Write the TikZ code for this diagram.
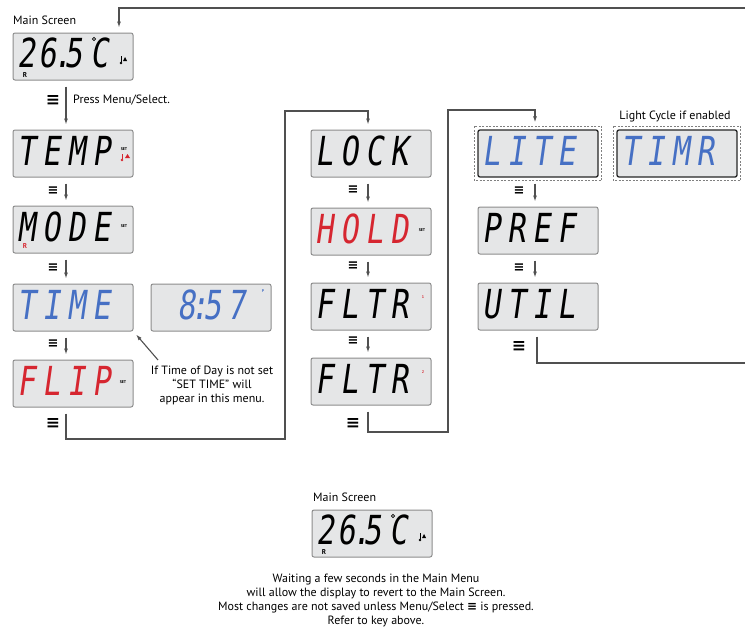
\documentclass[tikz,border=0pt]{standalone}
\usepackage{fontspec}
\setmainfont{PT Sans}
\newfontfamily\lcdfont{DejaVu Sans Mono}[FakeStretch=0.75, FakeSlant=0.14]
\newfontfamily\symfont{DejaVu Sans}
\usetikzlibrary{arrows.meta,positioning}
\definecolor{lcdfill}{RGB}{229,230,231}
\definecolor{lcdedge}{RGB}{140,140,140}
\definecolor{wireclr}{RGB}{80,80,80}
\definecolor{lcdblue}{RGB}{70,112,196}
\definecolor{lcdred}{RGB}{214,38,48}
\newcommand{\menukey}{{\symfont\bfseries ≡}}
\newcommand{\segsp}{\kern7pt}

\begin{document}
\begin{tikzpicture}[x=1pt, y=-1pt,
    lcd/.style={draw=lcdedge, fill=lcdfill, line width=1pt, rounded corners=2pt,
      minimum width=120pt, minimum height=47pt, inner sep=0pt},
    lcdhi/.style={lcd, draw=black!85, line width=1.3pt},
    outline/.style={draw=gray, dash pattern=on 2pt off 1.5pt, line width=0.9pt},
    seg/.style={font=\fontsize{40}{40}\lcdfont, inner sep=0pt, anchor=base west},
    lbl/.style={font=\fontsize{12}{14}\selectfont, inner sep=0pt},
    tiny/.style={font=\fontsize{4}{4}\selectfont\bfseries, inner sep=0pt},
    flag/.style={font=\fontsize{7}{7}\selectfont\bfseries, inner sep=0pt},
    key/.style={font=\fontsize{17}{17}\symfont\bfseries, inner sep=0pt},
    keysm/.style={font=\fontsize{13}{13}\symfont\bfseries, inner sep=0pt},
    wire/.style={draw=wireclr, line width=1.1pt},
    arr/.style={wire, -{Latex[length=6pt,width=4pt]}},
    nextarr/.style={arr, shorten <=6pt, shorten >=5pt}]

  \useasboundingbox (0,0) rectangle (745,629);

  % displays
  \node[lcd] (main) at (73,56.5) {};
  \node[lcd] (temp) at (73,153.5) {};
  \node[lcd] (mode) at (73,229.5) {};
  \node[lcd] (time) at (73,307.5) {};
  \node[lcd] (clock) at (211,307.5) {};
  \node[lcd] (flip) at (73,383.5) {};
  \node[lcd] (lock) at (371,153.5) {};
  \node[lcd] (hold) at (371,231.5) {};
  \node[lcd] (fltrA) at (371,306.5) {};
  \node[lcd] (fltrB) at (371,381.5) {};
  \node[lcdhi] (lite) at (538,153.5) {};
  \node[lcdhi] (timr) at (677,153.5) {};
  \node[lcd] (pref) at (538,230.5) {};
  \node[lcd] (util) at (538,306.5) {};
  \node[lcd] (mainB) at (372,533.5) {};

  \draw[outline] ([xshift=-3pt,yshift=3pt]lite.north west) rectangle ([xshift=3pt,yshift=-3pt]lite.south east);
  \draw[outline] ([xshift=-3pt,yshift=3pt]timr.north west) rectangle ([xshift=3pt,yshift=-3pt]timr.south east);

  % display texts
  \node[seg] (mainT) at ([xshift=5pt,yshift=-10.5pt]main.west) {2\kern3pt6\kern-3pt.\kern-7pt5\kern8pt C};
  \node[seg] (tempT) at ([xshift=5pt,yshift=-12pt]temp.west) {T\segsp E\segsp M\segsp P};
  \node[seg] (modeT) at ([xshift=5pt,yshift=-12pt]mode.west) {M\segsp O\segsp D\segsp E};
  \node[seg, text=lcdblue] (timeT) at ([xshift=5pt,yshift=-12pt]time.west) {T\segsp I\segsp M\segsp E};
  \node[seg, text=lcdblue] (clockT) at ([xshift=27pt,yshift=-12pt]clock.west) {8\kern-5pt:\kern-5pt5\kern6pt7};
  \node[seg, text=lcdred] (flipT) at ([xshift=5pt,yshift=-12pt]flip.west) {F\segsp L\segsp I\segsp P};
  \node[seg] (lockT) at ([xshift=5pt,yshift=-12pt]lock.west) {L\segsp O\segsp C\segsp K};
  \node[seg, text=lcdred] (holdT) at ([xshift=5pt,yshift=-12pt]hold.west) {H\segsp O\segsp L\segsp D};
  \node[seg] (fltrAT) at ([xshift=5pt,yshift=-12pt]fltrA.west) {F\segsp L\segsp T\segsp R};
  \node[seg] (fltrBT) at ([xshift=5pt,yshift=-12pt]fltrB.west) {F\segsp L\segsp T\segsp R};
  \node[seg, text=lcdblue] (liteT) at ([xshift=5pt,yshift=-12pt]lite.west) {L\segsp I\segsp T\segsp E};
  \node[seg, text=lcdblue] (timrT) at ([xshift=5pt,yshift=-12pt]timr.west) {T\segsp I\segsp M\segsp R};
  \node[seg] (prefT) at ([xshift=5pt,yshift=-12pt]pref.west) {P\segsp R\segsp E\segsp F};
  \node[seg] (utilT) at ([xshift=5pt,yshift=-12pt]util.west) {U\segsp T\segsp I\segsp L};
  \node[seg] (mainBT) at ([xshift=5pt,yshift=-10.5pt]mainB.west) {2\kern3pt6\kern-3pt.\kern-7pt5\kern8pt C};

  % small marks
  \draw[line width=0.6pt] (94,39) circle (1.6);
  \draw[line width=0.6pt] (393,516) circle (1.6);
  \node[flag] (mainR) at (25,75) {R};
  \node[flag] (mainBR) at (324,552) {R};
  \node[flag, text=lcdred] (modeR) at (25,246) {R};
  \node[tiny] (tempS) at (124,149) {SET};
  \node[tiny] (modeS) at (124,226) {SET};
  \node[tiny] (flipS) at (123,382) {SET};
  \node[tiny] (holdS) at (422,230) {SET};
  \node[tiny, text=lcdred] (fltrAn) at (423,297) {1};
  \node[tiny, text=lcdred] (fltrBn) at (423,372) {2};
  \node[tiny, text=lcdblue] (clockP) at (263,291) {P};

  % thermometer icons
  \draw[line width=0.8pt] (121,56) -- (121,62);
  \fill (121,63) circle (1.3);
  \fill (123,61) -- (127,61) -- (125,57) -- cycle;
  \draw[line width=0.8pt] (420,533) -- (420,539);
  \fill (420,540) circle (1.3);
  \fill (422,538) -- (426,538) -- (424,534) -- cycle;
  \draw[lcdred, line width=0.8pt] (122,154) -- (122,159);
  \fill[lcdred] (122,160) circle (1.3);
  \fill[lcdred] (125,158) -- (130,158) -- (127.5,154) -- cycle;

  % labels
  \node[lbl, anchor=west] (mainL) at (13,20) {Main Screen};
  \node[lbl, anchor=west] (pressL) at (73,100) {Press Menu/Select.};
  \node[lbl, align=center] (timeL) at (212,385) {If Time of Day is not set\\``SET TIME'' will\\appear in this menu.};
  \node[lbl] (liteL) at (675,116) {Light Cycle if enabled};
  \node[lbl, anchor=west] (mainBL) at (313,497) {Main Screen};
  \node[lbl, align=center] (noteL) at (376,600) {Waiting a few seconds in the Main Menu\\will allow the display to revert to the Main Screen.\\Most changes are not saved unless Menu/Select \menukey\ is pressed.\\Refer to key above.};

  % menu keys
  \node[key] (k1) at (53,100) {≡};
  \node[keysm] (k2) at (53,191) {≡};
  \node[keysm] (k3) at (53,268) {≡};
  \node[keysm] (k4) at (53,344) {≡};
  \node[key] (k5) at (53,423) {≡};
  \node[keysm] (k6) at (353,190) {≡};
  \node[keysm] (k7) at (353,266) {≡};
  \node[keysm] (k8) at (353,341) {≡};
  \node[key] (k9) at (353,423) {≡};
  \node[keysm] (k10) at (519,191) {≡};
  \node[keysm] (k11) at (519,268) {≡};
  \node[key] (k12) at (519,346) {≡};

  % menu steps
  \draw[nextarr] ([xshift=-7pt]main.south) -- ([xshift=-7pt]temp.north);
  \draw[nextarr] ([xshift=-7pt]temp.south) -- ([xshift=-7pt]mode.north);
  \draw[nextarr] ([xshift=-7pt]mode.south) -- ([xshift=-7pt]time.north);
  \draw[nextarr] ([xshift=-7pt]time.south) -- ([xshift=-7pt]flip.north);
  \draw[nextarr] ([xshift=-3pt]lock.south) -- ([xshift=-3pt]hold.north);
  \draw[nextarr] ([xshift=-3pt]hold.south) -- ([xshift=-3pt]fltrA.north);
  \draw[nextarr] ([xshift=-3pt]fltrA.south) -- ([xshift=-3pt]fltrB.north);
  \draw[nextarr] ([xshift=-3pt]lite.south) -- ([xshift=-3pt]pref.north);
  \draw[nextarr] ([xshift=-3pt]pref.south) -- ([xshift=-3pt]util.north);

  % column changes and return
  \coordinate (c1) at (285,439);
  \coordinate (c2) at (285,111);
  \coordinate (c3) at (448,432);
  \coordinate (c4) at (448,110);
  \coordinate (botR) at (745,363);
  \coordinate (topR) at (745,8);
  \draw[nextarr] ([xshift=-7pt]flip.south) |- (c1) -- (c2) -| ([xshift=-3pt]lock.north);
  \draw[nextarr, shorten >=7pt] ([xshift=-3pt]fltrB.south) |- (c3) -- (c4) -| ([xshift=-3pt]lite.north);
  \draw[wire, shorten <=6pt] ([xshift=-1pt]util.south) |- (botR);
  \draw[arr, shorten >=5pt] (topR) -| ([xshift=46pt]main.north);

  % note arrow
  \coordinate (noteTail) at (158,360);
  \draw[arr, shorten >=4pt] (noteTail) -- (time.south east);
\end{tikzpicture}
\end{document}
